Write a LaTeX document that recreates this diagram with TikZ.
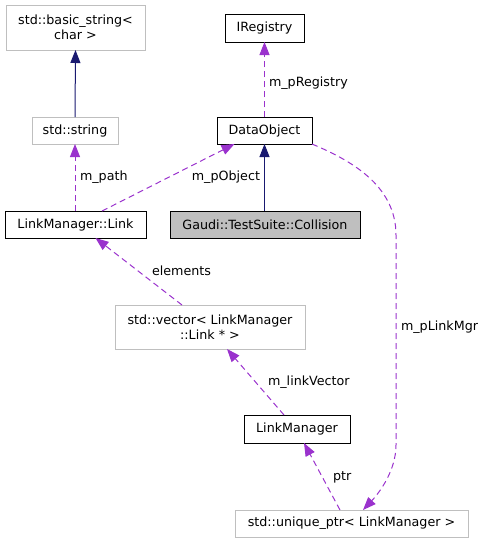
\documentclass[tikz,border=0pt]{standalone}
\usepackage{fontspec}
\setmainfont{DejaVu Sans}
\usetikzlibrary{arrows.meta,calc}
\definecolor{edgepurple}{HTML}{9A32CD}
\definecolor{edgenavy}{HTML}{191970}
\definecolor{graybd}{HTML}{BFBFBF}
\begin{document}
\begin{tikzpicture}[x=1pt,y=-1pt,
  every node/.style={font=\fontsize{12.7}{15}\selectfont, inner sep=0pt, outer sep=0pt},
  docbox/.style={draw=black, line width=1pt, fill=white, align=center},
  undocbox/.style={draw=graybd, line width=1pt, fill=white, align=center},
  mainbox/.style={draw=black, line width=1pt, fill=graybd, align=center},
  inherit/.style={draw=edgenavy, line width=1pt, -{Triangle[length=13pt,width=10pt]}},
  usage/.style={draw=edgepurple, line width=1pt, dash pattern=on 6pt off 4pt, -{Triangle[length=13pt,width=10pt,fill=edgepurple]}},
  lbl/.style={anchor=west}
]
\useasboundingbox (0,0) rectangle (486,544);
\node[undocbox, minimum width=139pt, minimum height=45pt] (bs) at (75.5,27.5) {std::basic\_string<\\char >};
\node[docbox, minimum width=79pt, minimum height=28pt] (ireg) at (264.5,28) {IRegistry};
\node[undocbox, minimum width=86pt, minimum height=27pt] (str) at (75,130.5) {std::string};
\node[docbox, minimum width=95pt, minimum height=27pt] (dobj) at (264.5,130.5) {DataObject};
\node[docbox, minimum width=141pt, minimum height=27pt] (link) at (75.5,224.5) {LinkManager::Link};
\node[mainbox, minimum width=190pt, minimum height=27pt] (coll) at (265,224.5) {Gaudi::TestSuite::Collision};
\node[undocbox, minimum width=190pt, minimum height=44pt] (vec) at (210,327) {std::vector< LinkManager\\::Link * >};
\node[docbox, minimum width=106pt, minimum height=28pt] (lm) at (297,429) {LinkManager};
\node[undocbox, minimum width=233pt, minimum height=27pt] (uptr) at (351.5,523.5) {std::unique\_ptr< LinkManager >};

% inheritance
\draw[inherit] (str.north) -- (bs.south);
\draw[inherit] (coll.north -| dobj.south) -- (dobj.south);

% usage
\draw[usage] (dobj.north) -- (ireg.south);
\node[lbl] (lreg) at (269,83) {m\_pRegistry};

\draw[usage] ([xshift=-0.5pt]link.north) -- (str.south);
\node[lbl] (lpath) at (80,177) {m\_path};

\draw[usage] ([xshift=26.5pt]link.north) -- ([xshift=-30pt]dobj.south);
\node[anchor=east] (lpobj) at (260,177) {m\_pObject};

\draw[usage] ([xshift=-28pt]vec.north) -- ([xshift=20pt]link.south);
\node[lbl] (lelem) at (152,271) {elements};

\draw[usage] ([xshift=-13pt]lm.north) -- ([xshift=17pt]vec.south);
\node[lbl] (llv) at (268,382) {m\_linkVector};

\draw[usage] ([xshift=-11.5pt]uptr.north) -- ([xshift=7pt]lm.south);
\node[lbl] (lptr) at (333,477) {ptr};

\draw[usage] (dobj.south east) .. controls (350,160) and (396,185) .. (396,235) -- (396,445) .. controls (396,470) and (380,492) .. ([xshift=11.5pt]uptr.north);
\node[lbl] (lmgr) at (401,327) {m\_pLinkMgr};
\end{tikzpicture}
\end{document}
